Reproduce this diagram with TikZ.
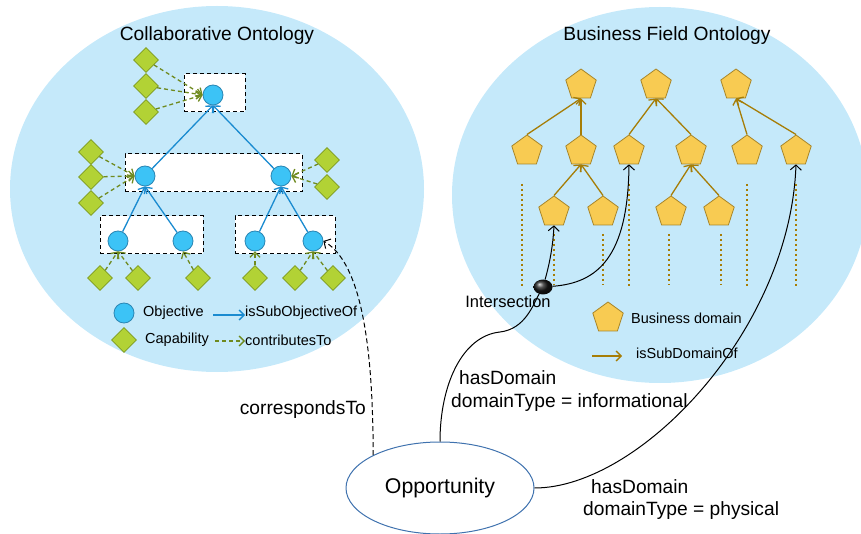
\documentclass[tikz,border=0pt]{standalone}
\usepackage{fontspec}
\setmainfont{Liberation Sans}
\usetikzlibrary{shapes.geometric,arrows.meta,positioning,calc}
\definecolor{skyb}{HTML}{C5E9FA}
\definecolor{objf}{HTML}{3CC3F6}
\definecolor{objd}{HTML}{2A86B4}
\definecolor{capf}{HTML}{B2D235}
\definecolor{capd}{HTML}{7D9A1E}
\definecolor{domf}{HTML}{F8CB52}
\definecolor{domd}{HTML}{A8862A}
\definecolor{subo}{HTML}{1A8BD0}
\definecolor{contr}{HTML}{6F8A1F}
\definecolor{subd}{HTML}{A67D06}
\definecolor{oppd}{HTML}{3F72AE}
\tikzset{
	obj/.style={circle,draw=objd,fill=objf,minimum size=20pt,inner sep=0pt,line width=0.8pt},
	capb/.style={diamond,draw=capd,fill=capf,minimum size=25pt,inner sep=0pt,line width=0.8pt},
	dom/.style={regular polygon,regular polygon sides=5,draw=domd,fill=domf,minimum size=32pt,inner sep=0pt,line width=0.8pt},
	grp/.style={draw,fill=white,line width=1pt,dash pattern=on 4pt off 3pt,inner sep=0pt},
	sub/.style={-{Straight Barb[length=5pt,width=10pt]},subo,line width=1.3pt},
	ctb/.style={-{Straight Barb[length=5pt,width=10pt]},contr,line width=1.3pt,dash pattern=on 4pt off 3pt},
	sdm/.style={-{Straight Barb[length=5pt,width=10pt]},subd,line width=1.3pt},
	lnk/.style={-{Straight Barb[length=5pt,width=11pt]},line width=1pt},
	lbl/.style={font=\fontsize{14.5}{17}\selectfont,inner sep=0pt,anchor=west},
	txt/.style={font=\fontsize{19.2}{23}\selectfont,inner sep=0pt},
	dotline/.style={subd,line width=2pt,dash pattern=on 2pt off 3pt}
}
\begin{document}
\begin{tikzpicture}[x=1pt,y=-1pt]
	\useasboundingbox (0,0) rectangle (861,534);
	% the two ontologies
	\fill[skyb] (217,189) ellipse [x radius=207pt,y radius=183pt];
	\fill[skyb] (660,195) ellipse [x radius=208pt,y radius=188pt];
	\node[txt] (tco) at (217,36) {Collaborative Ontology};
	\node[txt] (tbf) at (667,36) {Business Field Ontology};
	% objective groups
	\node[grp,minimum width=61pt,minimum height=38pt] (g1) at (214.5,93) {};
	\node[grp,minimum width=177pt,minimum height=38pt] (g2) at (213.5,173) {};
	\node[grp,minimum width=103pt,minimum height=38pt] (g3) at (151.5,235) {};
	\node[grp,minimum width=100pt,minimum height=38pt] (g4) at (285,235) {};
	% objectives
	\node[obj] (o1) at (213,95) {};
	\node[obj] (o2a) at (145,176) {};
	\node[obj] (o2b) at (281,176) {};
	\node[obj] (o3a) at (118,241) {};
	\node[obj] (o3b) at (183,241) {};
	\node[obj] (o3c) at (255,241) {};
	\node[obj] (o3d) at (313,241) {};
	% capabilities
	\foreach \n/\x/\y in {c1/146/60,c2/146/86,c3/146/112,c4/91/152,c5/91/177,c6/91/203,
		c7/327/160,c8/327/187,c9/100/278,c10/138/278,c11/198/278,c12/255/278,c13/295/278,c14/333/278}
		\node[capb] (\n) at (\x,\y) {};
	\foreach \x/\y in {o2a/o1,o2b/o1,o3a/o2a,o3b/o2a,o3c/o2b,o3d/o2b}\draw[sub](\x)--(\y.south);
	\foreach \x in {c1,c2,c3}\draw[ctb](\x)--(o1.west);
	\foreach \x in {c4,c5,c6}\draw[ctb](\x)--(o2a.west);
	\foreach \x in {c7,c8}\draw[ctb](\x)--(o2b.east);
	\foreach \x/\y in {c9/o3a,c10/o3a,c11/o3b,c12/o3c,c13/o3d,c14/o3d}\draw[ctb](\x)--(\y.south);
	% legend left
	\node[obj] (lo) at (124,313) {};
	\node[lbl] (tob) at (143,313) {Objective};
	\node[capb] (lc) at (124,340) {};
	\node[lbl] (tca) at (145,340) {Capability};
	\node[lbl] (tsub) at (245,313) {isSubObjectiveOf};
	\node[lbl] (tctb) at (245,340) {contributesTo};
	\coordinate (ls) at (213,315);
	\coordinate (lt) at (215,341);
	\draw[sub] (ls) -- (ls -| tsub.west);
	\draw[ctb] (lt) -- (lt -| tctb.west);
	% business domains
	\foreach \n/\x/\y in {r1a/581/85,r1b/656/85,r1c/736/85,
		r2a/527/151,r2b/581/151,r2c/629/151,r2d/691/151,r2e/747/151,r2f/796/151,
		r3a/554/212,r3b/603/212,r3c/671/212,r3d/719/212}
		\node[dom] (\n) at (\x,\y) {};
	\foreach \x/\y in {r2a/r1a,r2b/r1a,r2c/r1b,r2d/r1b,r2e/r1c,r2f/r1c,
		r3a/r2b,r3b/r2b,r3c/r2d,r3d/r2d}\draw[sdm](\x.north)--(\y.south);
	\foreach \x in {522,629,747,796}\draw[dotline] (\x,184) -- (\x,288);
	\foreach \x in {554,603,669,721}\draw[dotline] (\x,234) -- (\x,285);
	% legend right
	\node[dom] (ld) at (608,318) {};
	\node[lbl] (tbd) at (631,318) {Business domain};
	\node[lbl] (tsd) at (636,353) {isSubDomainOf};
	\coordinate (lg) at (592,356);
	\draw[sdm] (lg) -- (622,356);
	% opportunity and its links
	\node[ellipse,draw=oppd,line width=1pt,minimum width=188pt,minimum height=92pt,inner sep=0pt,
		font=\fontsize{21.3}{25}\selectfont] (opp) at (440,488) {Opportunity};
	\node[ellipse,ball color=black!90,minimum width=19pt,minimum height=15pt,inner sep=0pt] (isec) at (543,287) {};
	\node[font=\fontsize{16.5}{20}\selectfont,inner sep=0pt] (tis) at (508,302) {Intersection};
	\draw[line width=1pt] (opp.north) .. controls (440,385) and (462,336) .. (500,332)
		.. controls (525,329) and (533,305) .. (isec);
	\draw[lnk] (isec) .. controls (550,262) and (553,245) .. (r3a.south);
	\draw[lnk] (isec) .. controls (597,283) and (628,258) .. (r2c.south);
	\draw[lnk] (opp.east) .. controls (640,488) and (790,330) .. (r2f.south);
	\draw[lnk,dash pattern=on 5pt off 3pt] (opp.north west) .. controls (373,340) and (360,262) .. (o3d.east);
	\node[txt,anchor=east] (tcr) at (366,410) {correspondsTo};
	\node[txt,anchor=west] (th1) at (459,378) {hasDomain};
	\node[txt,anchor=west] (tt1) at (451,403) {domainType = informational};
	\node[txt,anchor=west] (th2) at (591,487) {hasDomain};
	\node[txt,anchor=west] (tt2) at (583,511) {domainType = physical};
\end{tikzpicture}
\end{document}
